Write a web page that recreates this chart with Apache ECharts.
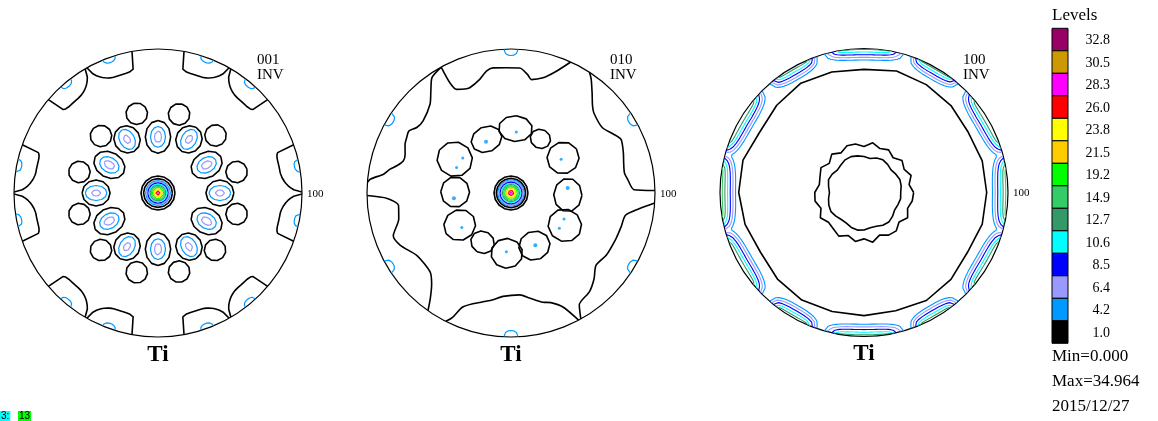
<!DOCTYPE html>
<html>
<head>
<meta charset="utf-8">
<script src="https://cdn.jsdelivr.net/npm/echarts@6/dist/echarts.min.js"></script>
<style>
  html, body { margin: 0; padding: 0; background: #fff; }
  #chart { width: 1158px; height: 421px; }
</style>
</head>
<body>
<div id="chart"></div>
<script>
// ---- contour levels (legend, top to bottom) ----
const levelValues = [32.8, 30.5, 28.3, 26.0, 23.8, 21.5, 19.2, 14.9, 12.7, 10.6, 8.5, 6.4, 4.2, 1.0];
const levelColors = ['#990066', '#cc9900', '#ff00ff', '#ff0000', '#ffff00', '#ffcc00', '#00ff00',
                     '#33cc66', '#339966', '#00ffff', '#0000ff', '#9999ff', '#0099ff', '#000000'];
const figureNames = ['001', '010', '100'];
const projectionName = 'INV';
const phaseName = 'Ti';
const edgeLabel = '100';
const statsLines = ['Min=0.000', 'Max=34.964', '2015/12/27'];

// ---- 001 pole figure ----
// central peak: [level, radius]
const f1Peak = [[1.0, 0.118], [1.0, 0.1], [4.2, 0.086], [6.4, 0.078], [8.5, 0.07], [10.6, 0.062],
                [12.7, 0.054], [14.9, 0.046], [19.2, 0.038], [21.5, 0.03], [23.8, 0.022], [26.0, 0.014], [28.3, 0.007]];
// inner ring of maxima: [angle, radius, shape index]
const f1Inner = [[0, 0.43, 0], [30, 0.39, 1], [60, 0.43, 0], [90, 0.39, 1], [120, 0.43, 0], [150, 0.39, 1],
                 [180, 0.43, 0], [210, 0.39, 1], [240, 0.43, 0], [270, 0.39, 1], [300, 0.43, 0], [330, 0.39, 1]];
// nested contours of each inner maximum: [level, radial half-size, tangential half-size]
const f1InnerShapes = [
  [[1.0, 0.097, 0.09], [4.2, 0.075, 0.052], [6.4, 0.032, 0.021]],
  [[1.0, 0.114, 0.088], [4.2, 0.072, 0.052], [6.4, 0.04, 0.024]]
];
// outer ring of weak maxima: [angle, radius, size]
const f1Outer = [[15, 0.565, 0.075], [45, 0.565, 0.075], [75, 0.565, 0.075], [105, 0.57, 0.075],
                 [135, 0.56, 0.075], [165, 0.565, 0.075], [195, 0.565, 0.075], [225, 0.56, 0.075],
                 [255, 0.57, 0.075], [285, 0.565, 0.075], [315, 0.56, 0.075], [345, 0.565, 0.075]];
// contours touching the rim: [angle, half width (deg), depth, level, steep side (+1 larger angle / -1 smaller)]
const f1Rim = [[10, 9.6, 0.14, 1.0, 1], [50, 9.6, 0.14, 1.0, -1], [70, 9.6, 0.14, 1.0, 1], [110, 9.6, 0.14, 1.0, -1],
               [130, 9.6, 0.14, 1.0, 1], [170, 9.6, 0.14, 1.0, -1], [190, 9.6, 0.14, 1.0, 1], [230, 9.6, 0.14, 1.0, -1],
               [250, 9.6, 0.14, 1.0, 1], [290, 9.6, 0.14, 1.0, -1], [310, 9.6, 0.14, 1.0, 1], [350, 9.6, 0.14, 1.0, -1],
               [11, 2.6, 0.035, 4.2, 0], [50, 2.6, 0.035, 4.2, 0], [70, 2.6, 0.035, 4.2, 0], [110, 2.6, 0.035, 4.2, 0],
               [130, 2.6, 0.035, 4.2, 0], [169, 2.6, 0.035, 4.2, 0], [191, 2.6, 0.035, 4.2, 0], [230, 2.6, 0.035, 4.2, 0],
               [250, 2.6, 0.035, 4.2, 0], [290, 2.6, 0.035, 4.2, 0], [310, 2.6, 0.035, 4.2, 0], [349, 2.6, 0.035, 4.2, 0]];

// ---- 010 pole figure ----
const f2Peak = [[1.0, 0.118], [1.0, 0.102], [4.2, 0.092], [6.4, 0.084], [8.5, 0.076], [10.6, 0.067],
                [12.7, 0.059], [14.9, 0.051], [19.2, 0.043], [21.5, 0.034], [23.8, 0.026], [26.0, 0.018], [28.3, 0.01]];
// ring of 1.0 contours: [angle, radius, radial half-size, tangential half-size]
const f2Ring = [[86, 0.448, 0.09, 0.118], [61.5, 0.428, 0.066, 0.072], [34, 0.436, 0.112, 0.11],
                [-2, 0.395, 0.098, 0.116], [-31, 0.436, 0.118, 0.112], [-66, 0.40, 0.1, 0.11],
                [-94, 0.42, 0.104, 0.11], [-120, 0.395, 0.076, 0.084], [-148, 0.42, 0.112, 0.106],
                [179, 0.388, 0.1, 0.106], [149, 0.456, 0.124, 0.12], [114.5, 0.41, 0.088, 0.11]];
// small 4.2 islands inside the ring: [angle, radius, size px]
const f2Spots = [[85, 0.425, 3], [34, 0.42, 3], [5, 0.395, 4], [-26, 0.41, 3], [-36, 0.415, 3], [-65, 0.40, 4],
                 [-94.5, 0.41, 3], [-145, 0.417, 3], [-174.7, 0.398, 4], [155, 0.417, 3], [144, 0.414, 3], [116, 0.396, 4]];
// wavy 1.0 contours running between rim points: [angle, radius]
const f2Wave1 = [[119, 1.0], [119, 0.876], [117.7, 0.813], [114, 0.79], [111.4, 0.785], [105.4, 0.818], [101.4, 0.864],
                 [98.2, 0.878], [92, 0.87], [86, 0.87], [82, 0.83], [79.9, 0.80], [74.5, 0.83], [69.7, 0.90], [65.5, 1.0]];
const f2Wave2 = [[57, 1.0], [55, 0.97], [51, 0.895], [47, 0.83], [44, 0.80], [35.5, 0.78], [30, 0.82], [26, 0.85], [20, 0.83],
                 [15, 0.81], [10, 0.8], [6.8, 0.815], [1.5, 0.855], [1, 1.0]];
const f2Wave3 = [[-4, 1.0], [-7, 0.896], [-11, 0.81], [-17, 0.8], [-23.6, 0.795], [-33, 0.79], [-40.4, 0.775],
                 [-46, 0.83], [-51.6, 0.876], [-58.6, 0.91], [-61, 1.0]];
const f2Wave4 = [[-62, 1.0], [-65.5, 0.87], [-70, 0.81], [-73.7, 0.79], [-80, 0.74], [-85, 0.71], [-94.4, 0.72],
                 [-100, 0.755], [-104.4, 0.78], [-112.8, 0.857], [-115.3, 0.96], [-117, 1.0]];
const f2Wave5 = [[-125.2, 1.0], [-127.5, 0.92], [-131, 0.84], [-135.7, 0.785], [-146.5, 0.785], [-154.7, 0.85],
                 [-160, 0.87], [-167, 0.80], [-173.6, 0.786], [-177.5, 0.86], [-179, 1.0]];
const f2Wave6 = [[175.7, 1.0], [174.3, 0.98], [171.6, 0.895], [168.8, 0.856], [166.6, 0.815], [163.3, 0.78],
                 [159.9, 0.783], [155.3, 0.81], [152, 0.82], [148.8, 0.83], [145.2, 0.797], [140.6, 0.79],
                 [132.4, 0.834], [128.2, 0.9], [124.5, 0.97], [119, 1.0]];
// 4.2 contours touching the rim: [angle, half width (deg), depth]
const f2Rim = [[31, 2.8, 0.045], [90, 2.8, 0.045], [149, 2.8, 0.045], [211, 2.8, 0.045], [270, 2.8, 0.045], [329, 2.8, 0.045]];

// ---- 100 pole figure ----
// 1.0 ring near the rim, radius every 15 deg starting at 0
const f3OuterRing = [0.852, 0.85, 0.836, 0.854, 0.865, 0.873, 0.855, 0.866, 0.877, 0.857, 0.837, 0.87,
                     0.87, 0.855, 0.83, 0.85, 0.863, 0.855, 0.855, 0.85, 0.866, 0.854, 0.83, 0.85];
// scalloped 1.0 contour around the centre, radius every 10 deg
const f3Flower = [0.345, 0.318, 0.348, 0.322, 0.345, 0.315, 0.342, 0.325, 0.35, 0.32, 0.342, 0.345,
                  0.318, 0.348, 0.315, 0.345, 0.325, 0.315, 0.342, 0.345, 0.318, 0.35, 0.322, 0.33,
                  0.35, 0.318, 0.345, 0.322, 0.35, 0.315, 0.342, 0.348, 0.318, 0.35, 0.322, 0.34];
// inner dip contour, radius every 10 deg
const f3Hole = [0.255, 0.262, 0.265, 0.255, 0.245, 0.255, 0.262, 0.255, 0.24, 0.25, 0.258, 0.265,
                0.262, 0.25, 0.242, 0.255, 0.262, 0.25, 0.24, 0.25, 0.26, 0.265, 0.255, 0.245,
                0.245, 0.258, 0.265, 0.26, 0.248, 0.25, 0.262, 0.268, 0.258, 0.245, 0.25, 0.258];
// rim maxima: [angle, half width (deg) of the 4.2 contour, depth of the 4.2 contour, highest level]
const f3Rim = [[0, 16, 0.108, 14.9], [30, 15, 0.1, 12.7], [60, 11, 0.085, 14.9], [90, 16, 0.08, 12.7],
               [120, 11, 0.09, 14.9], [150, 15, 0.1, 12.7], [180, 16, 0.108, 14.9], [210, 15, 0.1, 12.7],
               [240, 11, 0.09, 14.9], [270, 16, 0.085, 14.9], [300, 11, 0.09, 14.9], [330, 15, 0.1, 12.7]];
const f3RimLevels = [4.2, 6.4, 8.5, 10.6, 12.7, 14.9];

// ---- geometry helpers (data space of each polar system: radius 0..1, angle in degrees) ----
const colourOf = level => levelColors[levelValues.indexOf(level)];
const wrap = a => ((a % 360) + 360) % 360;
const toPolar = (x, y) => [Math.hypot(x, y), wrap(Math.atan2(y, x) * 180 / Math.PI)];
const superArc = (t, p) => Math.abs(t) >= 1 ? 0 : Math.pow(1 - Math.pow(Math.abs(t), p), 1 / p);
const lobeShape = t => superArc(t, 2.4);

function ellipse(angle, r, a, b, n) {
  const t0 = angle * Math.PI / 180;
  const cx = r * Math.cos(t0), cy = r * Math.sin(t0);
  const pts = [];
  for (let i = 0; i <= n; i++) {
    const t = 2 * Math.PI * i / n;
    const u = a * Math.cos(t), v = b * Math.sin(t);
    pts.push(toPolar(cx + u * Math.cos(t0) - v * Math.sin(t0), cy + u * Math.sin(t0) + v * Math.cos(t0)));
  }
  return pts;
}
// contour leaving the rim and returning to it; "steep" picks the side that drops almost radially
function rimArc(angle, halfWidth, depth, n, steep) {
  const pts = [];
  for (let i = 0; i <= n; i++) {
    const t = -1 + 2 * i / n;
    const p = steep && t * steep > 0 ? 6 : (steep ? 1.9 : 2.4);
    pts.push([1 - depth * superArc(t, p), wrap(angle + halfWidth * t)]);
  }
  return pts;
}
function ringFrom(radii) {
  const step = 360 / radii.length;
  const pts = radii.map((r, i) => [r, i * step]);
  pts.push([radii[0], 360]);
  return pts;
}
const asPolar = list => list.map(([a, r]) => [r, wrap(a)]);
const angDiff = (a, b) => ((a - b + 540) % 360) - 180;

// reach of one level of the rim band at a given angle (0 = on the rim)
function rimDepth(lobes, k, a) {
  let depth = 0;
  lobes.forEach(([c, w, d, top]) => {
    if (f3RimLevels.indexOf(top) < k) return;
    const dk = d - k * 0.0185;
    const wk = w * (0.55 + 0.45 * dk / d);
    depth = Math.max(depth, dk * lobeShape(angDiff(a, c) / wk));
  });
  return depth;
}
// one level of the rim band, split into pieces wherever it returns to the rim
function rimBand(lobes, level) {
  const k = f3RimLevels.indexOf(level);
  let start = 0;
  while (start < 360 && rimDepth(lobes, 0, start) > 0.002) start++;
  const pieces = [];
  let cur = [];
  for (let a = start; a <= start + 360; a++) {
    const depth = rimDepth(lobes, k, a);
    if (depth > 0.002) {
      if (!cur.length) cur.push([1, wrap(a - 1)]);
      cur.push([1 - depth, wrap(a)]);
    } else if (cur.length) {
      cur.push([1, wrap(a)]);
      pieces.push(cur);
      cur = [];
    }
  }
  if (cur.length) pieces.push(cur);
  return pieces;
}

const series = [];
function contour(polarIndex, level, data, extra) {
  series.push(Object.assign({
    type: 'line', coordinateSystem: 'polar', polarIndex, data,
    symbol: 'none', silent: true, animation: false, clip: false,
    lineStyle: { color: colourOf(level), width: level === 1.0 ? 1.6 : 1.2 },
    z: level === 1.0 ? 3 : 2
  }, extra || {}));
}

// 001
f1Peak.forEach(([lv, r]) => contour(0, lv, ellipse(0, 0, r, r, 16)));
f1Inner.forEach(([a, r, s]) => f1InnerShapes[s].forEach(([lv, ra, rt]) => contour(0, lv, ellipse(a, r, ra, rt, 12))));
f1Outer.forEach(([a, r, s]) => contour(0, 1.0, ellipse(a, r, s, s, 11)));
f1Rim.forEach(([a, w, d, lv, steep]) => contour(0, lv, rimArc(a, w, d, 20, steep)));

// 010
f2Peak.forEach(([lv, r]) => contour(1, lv, ellipse(0, 0, r, r, 16)));
f2Ring.forEach(([a, r, ra, rt]) => contour(1, 1.0, ellipse(a, r, ra, rt, 10)));
[f2Wave1, f2Wave2, f2Wave3, f2Wave4, f2Wave5, f2Wave6].forEach(w => contour(1, 1.0, asPolar(w), { smooth: 0.25 }));
f2Rim.forEach(([a, w, d]) => contour(1, 4.2, rimArc(a, w, d, 10, 0)));
series.push({
  type: 'scatter', coordinateSystem: 'polar', polarIndex: 1, silent: true, animation: false,
  data: f2Spots.map(([a, r, s]) => ({ value: [r, wrap(a)], symbolSize: s })),
  itemStyle: { color: colourOf(4.2) }
});

// 100
contour(2, 1.0, ringFrom(f3OuterRing));
contour(2, 1.0, ringFrom(f3Flower));
contour(2, 1.0, ringFrom(f3Hole));
f3RimLevels.forEach(lv => rimBand(f3Rim, lv).forEach(piece => contour(2, lv, piece, { lineStyle: { color: colourOf(lv), width: 1.1 } })));

// ---- layout ----
const centres = [[158, 193], [511, 193], [864, 192.5]];
const R = 144;
const polar = centres.map(c => ({ center: c, radius: R }));
const angleAxis = centres.map((c, i) => ({
  polarIndex: i, type: 'value', min: 0, max: 360, startAngle: 0, clockwise: false,
  axisLine: { lineStyle: { color: '#000', width: 1.2 } },
  axisTick: { show: false }, axisLabel: { show: false }, splitLine: { show: false }
}));
const radiusAxis = centres.map((c, i) => ({
  polarIndex: i, type: 'value', min: 0, max: 1,
  axisLine: { show: false }, axisTick: { show: false }, axisLabel: { show: false }, splitLine: { show: false }
}));

const serif = '"Liberation Serif", "Times New Roman", serif';
const graphic = [];
centres.forEach(([cx, cy], i) => {
  graphic.push({ type: 'text', x: cx + 99, y: cy - 140, silent: true,
    style: { text: figureNames[i] + '\n' + projectionName, font: '15px ' + serif, fill: '#000', lineHeight: 15, align: 'left', verticalAlign: 'top' } });
  graphic.push({ type: 'text', x: cx + R + 5, y: cy + 1, silent: true,
    style: { text: edgeLabel, font: '11px ' + serif, fill: '#000', align: 'left', verticalAlign: 'middle' } });
  graphic.push({ type: 'text', x: cx, y: cy + 162, silent: true,
    style: { text: phaseName, font: 'bold 23px ' + serif, fill: '#000', align: 'center', verticalAlign: 'middle' } });
});

// legend
const legendX = 1052, legendTop = 28.3, boxH = 22.5;
graphic.push({ type: 'text', x: legendX, y: 16, silent: true,
  style: { text: 'Levels', font: '17px ' + serif, fill: '#000', align: 'left', verticalAlign: 'middle' } });
levelValues.forEach((v, i) => {
  graphic.push({ type: 'rect', silent: true,
    shape: { x: legendX, y: legendTop + i * boxH, width: 16, height: boxH },
    style: { fill: levelColors[i], stroke: '#000', lineWidth: 1 } });
  graphic.push({ type: 'text', x: 1110, y: legendTop + i * boxH + boxH / 2 + 1, silent: true,
    style: { text: v.toFixed(1), font: '14px ' + serif, fill: '#000', align: 'right', verticalAlign: 'middle' } });
});
statsLines.forEach((t, i) => {
  graphic.push({ type: 'text', x: legendX, y: 357 + i * 25, silent: true,
    style: { text: t, font: '17px ' + serif, fill: '#000', align: 'left', verticalAlign: 'middle' } });
});
// small markers in the lower-left corner
graphic.push({ type: 'text', x: 0, y: 416, silent: true,
  style: { text: '3:', font: '10px sans-serif', fill: '#000', backgroundColor: '#00ffff', padding: [0, 1], align: 'left', verticalAlign: 'middle' } });
graphic.push({ type: 'text', x: 18, y: 416, silent: true,
  style: { text: '13', font: '10px sans-serif', fill: '#000', backgroundColor: '#00ff00', padding: [0, 1], align: 'left', verticalAlign: 'middle' } });

const chart = echarts.init(document.getElementById('chart'));
chart.setOption({
  animation: false,
  backgroundColor: '#fff',
  polar, angleAxis, radiusAxis,
  series,
  graphic
});
</script>
</body>
</html>
